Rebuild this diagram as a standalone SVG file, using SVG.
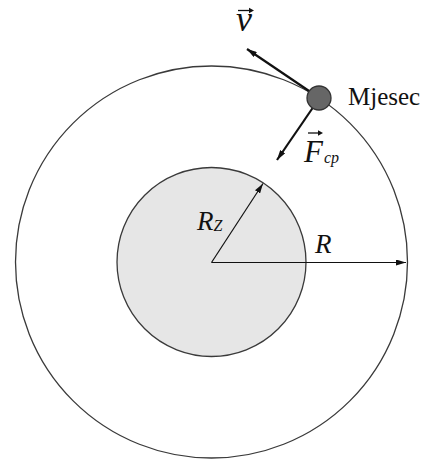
<svg xmlns="http://www.w3.org/2000/svg" width="436" height="459" viewBox="0 0 436 459">
<style>
.orbit{fill:none;stroke:#3a3a3a;stroke-width:1.3}
.earth{fill:#e6e6e6;stroke:#3a3a3a;stroke-width:1.3}
.moon{fill:#666;stroke:#333;stroke-width:1.3}
.thin{stroke:#111;stroke-width:1.2;fill:none}
.vec{stroke:#111;stroke-width:2.2;fill:none}
.lbl{font-family:"Liberation Serif","Times New Roman",serif;fill:#111}
.it{font-style:italic}
</style>
<defs>
<marker id="ah" viewBox="0 0 10 6" refX="10" refY="3" markerWidth="10" markerHeight="6" markerUnits="userSpaceOnUse" orient="auto">
<path d="M0,0 L10,3 L0,6 Z" fill="#111"/>
</marker>
<marker id="ahv" viewBox="0 0 10 6" refX="10" refY="3" markerWidth="10" markerHeight="6" markerUnits="userSpaceOnUse" orient="auto">
<path d="M0,0 L10,3 L0,6 Z" fill="#111"/>
</marker>
</defs>
<g id="orbit"><circle class="orbit" cx="211.5" cy="262" r="196"/></g>
<g id="earth"><circle class="earth" cx="211.5" cy="262" r="94.5"/></g>
<g id="connectors">
<line class="thin" x1="211.5" y1="262.5" x2="406" y2="262.5" marker-end="url(#ah)"/>
<line class="thin" x1="211.5" y1="262.5" x2="263" y2="183.5" marker-end="url(#ah)"/>
<line class="vec" x1="312" y1="93" x2="247" y2="49" marker-end="url(#ahv)"/>
<line class="vec" x1="314" y1="106" x2="277" y2="160" marker-end="url(#ahv)"/>
</g>
<g id="moon"><circle class="moon" cx="319" cy="98" r="12"/></g>
<g id="labels">
<text class="lbl" x="348" y="105" font-size="25">Mjesec</text>
<g id="label-v">
<text class="lbl it" x="236" y="31" font-size="36">v</text>
<line x1="238" y1="10.5" x2="252" y2="10.5" stroke="#111" stroke-width="1.3"/>
<path d="M254,10.5 l-5,-2.7 v5.4 z" fill="#111"/>
</g>
<g id="label-F">
<text class="lbl it" x="304" y="162" font-size="31">F<tspan font-size="16" dx="1" dy="1">cp</tspan></text>
<line x1="308" y1="133" x2="321" y2="133" stroke="#111" stroke-width="1.3"/>
<path d="M323,133 l-5,-2.7 v5.4 z" fill="#111"/>
</g>
<g id="label-Rz">
<text class="lbl it" x="197" y="230" font-size="27">R<tspan font-size="16" dy="1">Z</tspan></text>
</g>
<g id="label-R"><text class="lbl it" x="315" y="253" font-size="27">R</text></g>
</g>
</svg>
